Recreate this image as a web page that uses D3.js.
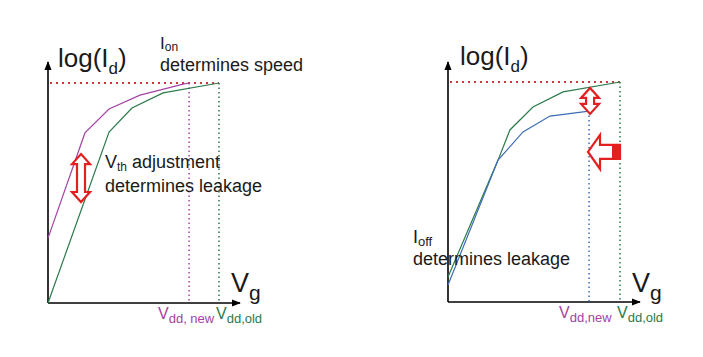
<!DOCTYPE html>
<html>
<head>
<meta charset="utf-8">
<script src="https://cdn.jsdelivr.net/npm/d3@7"></script>
<style>
  body { margin: 0; background: #fff; }
  svg { display: block; font-family: "Liberation Sans", Arial, sans-serif; }
</style>
</head>
<body>
<svg id="chart"></svg>
<script>
// curve data, x = Vg units (0..10, 10 = Vdd,old), y = log(Id) units (0..10)
const leftOld = [[0, 0], [3.57, 7.77], [4.91, 8.86], [6.73, 9.55], [10, 10]];
const leftNew = [[0, 2.95], [2.16, 7.73], [3.57, 8.82], [5.38, 9.45], [7.9, 9.95], [8.25, 10]];
const rightOld = [[0, 1.14], [2.91, 6.45], [3.6, 7.82], [4.94, 8.86], [6.69, 9.55], [10, 10]];
const rightNew = [[0, 0.77], [2.91, 6.45], [4.36, 7.73], [5.93, 8.45], [8.2, 8.68]];
const vddOld = 10, vddNewLeft = 8.25, vddNewRight = 8.2, ionLevel = 10;

const W = 703, H = 357;
const svg = d3.select("#chart").attr("width", W).attr("height", H);
svg.append("rect").attr("width", W).attr("height", H).attr("fill", "#fff");

const C = { magenta: "#a443a4", green: "#2b7a4b", blue: "#3d6db4", red: "#e2201f", dotRed: "#c83a3a", text: "#1a1a1a" };

svg.append("defs").append("marker")
  .attr("id", "ah").attr("viewBox", "0 0 10 10").attr("refX", 9).attr("refY", 5)
  .attr("markerWidth", 9).attr("markerHeight", 9).attr("markerUnits", "userSpaceOnUse")
  .attr("orient", "auto")
  .append("path").attr("d", "M0,1 L10,5 L0,9 Z").attr("fill", "#000");

function panel(ox, x0, x1, y0, y1) {
  const x = d3.scaleLinear().domain([0, 10]).range([x0, x1]);
  const y = d3.scaleLinear().domain([0, 10]).range([y0, y1]);
  const g = svg.append("g");
  // axes
  g.append("line").attr("x1", x0).attr("x2", x0).attr("y1", y0).attr("y2", 62)
    .attr("stroke", "#000").attr("stroke-width", 1.6).attr("marker-end", "url(#ah)");
  g.append("line").attr("x1", x0).attr("x2", ox).attr("y1", y0).attr("y2", y0)
    .attr("stroke", "#000").attr("stroke-width", 1.6).attr("marker-end", "url(#ah)");
  return { g, x, y };
}

const line = (x, y) => d3.line().x(d => x(d[0])).y(d => y(d[1]));

function dotted(g, xa, ya, xb, yb, color, heavy) {
  g.append("line").attr("x1", xa).attr("y1", ya).attr("x2", xb).attr("y2", yb)
    .attr("stroke", color).attr("stroke-width", heavy ? 2 : 1.5)
    .attr("stroke-dasharray", heavy ? "2,4" : "1.5,3");
}

function doubleArrow(g, cx, ya, yb) {
  const hw = 9, sw = 4, hl = 10;
  const p = `M${cx},${ya} L${cx + hw},${ya + hl} L${cx + sw},${ya + hl} L${cx + sw},${yb - hl} L${cx + hw},${yb - hl}
    L${cx},${yb} L${cx - hw},${yb - hl} L${cx - sw},${yb - hl} L${cx - sw},${ya + hl} L${cx - hw},${ya + hl} Z`;
  g.append("path").attr("d", p).attr("fill", "#fff").attr("stroke", C.red).attr("stroke-width", 2.2)
    .attr("stroke-linejoin", "miter");
}

function blockArrow(g, xt, xe, cy) {
  const hh = 17, bh = 7, hl = 12;
  const p = `M${xt},${cy} L${xt + hl},${cy - hh} L${xt + hl},${cy - bh} L${xe},${cy - bh} L${xe},${cy + bh}
    L${xt + hl},${cy + bh} L${xt + hl},${cy + hh} Z`;
  g.append("path").attr("d", p).attr("fill", "#fff").attr("stroke", C.red).attr("stroke-width", 2.2);
  g.append("rect").attr("x", xe - 8).attr("y", cy - bh).attr("width", 8).attr("height", bh * 2).attr("fill", C.red);
}

function label(g, xp, yp, main, sub, size, color, subSize, subDy) {
  const t = g.append("text").attr("x", xp).attr("y", yp).attr("fill", color)
    .attr("font-size", size);
  t.append("tspan").text(main);
  t.append("tspan").attr("dy", subDy != null ? subDy : size * 0.28).attr("font-size", subSize || size * 0.68).text(sub);
  return t;
}

// ---- left panel
{
  const { g, x, y } = panel(240, 48, 219, 303, 83);
  dotted(g, x(0) + 2, y(ionLevel), x(vddOld), y(ionLevel), C.dotRed, true);
  dotted(g, x(vddNewLeft), y(ionLevel), x(vddNewLeft), y(0), C.magenta, false);
  dotted(g, x(vddOld), y(ionLevel), x(vddOld), y(0), C.green, false);
  g.append("path").attr("d", line(x, y)(leftNew)).attr("fill", "none").attr("stroke", C.magenta).attr("stroke-width", 1.2);
  g.append("path").attr("d", line(x, y)(leftOld)).attr("fill", "none").attr("stroke", C.green).attr("stroke-width", 1.2);
  doubleArrow(g, x(1.93), y(6.77), y(4.59));

  const t1 = label(g, 58, 67, "log(I", "d", 26, C.text, 17);
  t1.append("tspan").attr("dy", -26 * 0.28).attr("font-size", 26).text(")");
  label(g, 160, 49, "I", "on", 17, C.text, 12, 2);
  g.append("text").attr("x", 160).attr("y", 71).attr("font-size", 18).attr("fill", C.text).text("determines speed");
  const vth = label(g, 105, 168, "V", "th", 18, C.text, 12, 3);
  vth.append("tspan").attr("dy", -3).attr("font-size", 18).text(" adjustment");
  g.append("text").attr("x", 105).attr("y", 192).attr("font-size", 18).attr("fill", C.text).text("determines leakage");
  label(g, 231, 292, "V", "g", 27, C.text, 21);
  label(g, 158, 319, "V", "dd, new", 16, C.magenta, 13);
  label(g, 216, 319, "V", "dd,old", 16, C.green, 13);
}

// ---- right panel
{
  const { g, x, y } = panel(640, 448, 620, 302, 82);
  dotted(g, x(0) + 2, y(ionLevel), x(vddOld), y(ionLevel), C.dotRed, true);
  dotted(g, x(vddNewRight), y(rightNew[rightNew.length - 1][1]), x(vddNewRight), y(0), C.blue, false);
  dotted(g, x(vddOld), y(ionLevel), x(vddOld), y(0), C.green, false);
  g.append("path").attr("d", line(x, y)(rightOld)).attr("fill", "none").attr("stroke", C.green).attr("stroke-width", 1.2);
  g.append("path").attr("d", line(x, y)(rightNew)).attr("fill", "none").attr("stroke", C.blue).attr("stroke-width", 1.2);
  doubleArrow(g, x(8.26), y(9.73), y(8.55));
  blockArrow(g, x(8.14), x(10), y(6.82));

  const t1 = label(g, 460, 65, "log(I", "d", 26, C.text, 17);
  t1.append("tspan").attr("dy", -26 * 0.28).attr("font-size", 26).text(")");
  label(g, 413, 243, "I", "off", 18, C.text, 13, 3);
  g.append("text").attr("x", 413).attr("y", 265).attr("font-size", 18).attr("fill", C.text).text("determines leakage");
  label(g, 632, 292, "V", "g", 27, C.text, 21);
  label(g, 559, 318, "V", "dd,new", 16, C.magenta, 13);
  label(g, 617, 318, "V", "dd,old", 16, C.green, 13);
}
</script>
</body>
</html>
